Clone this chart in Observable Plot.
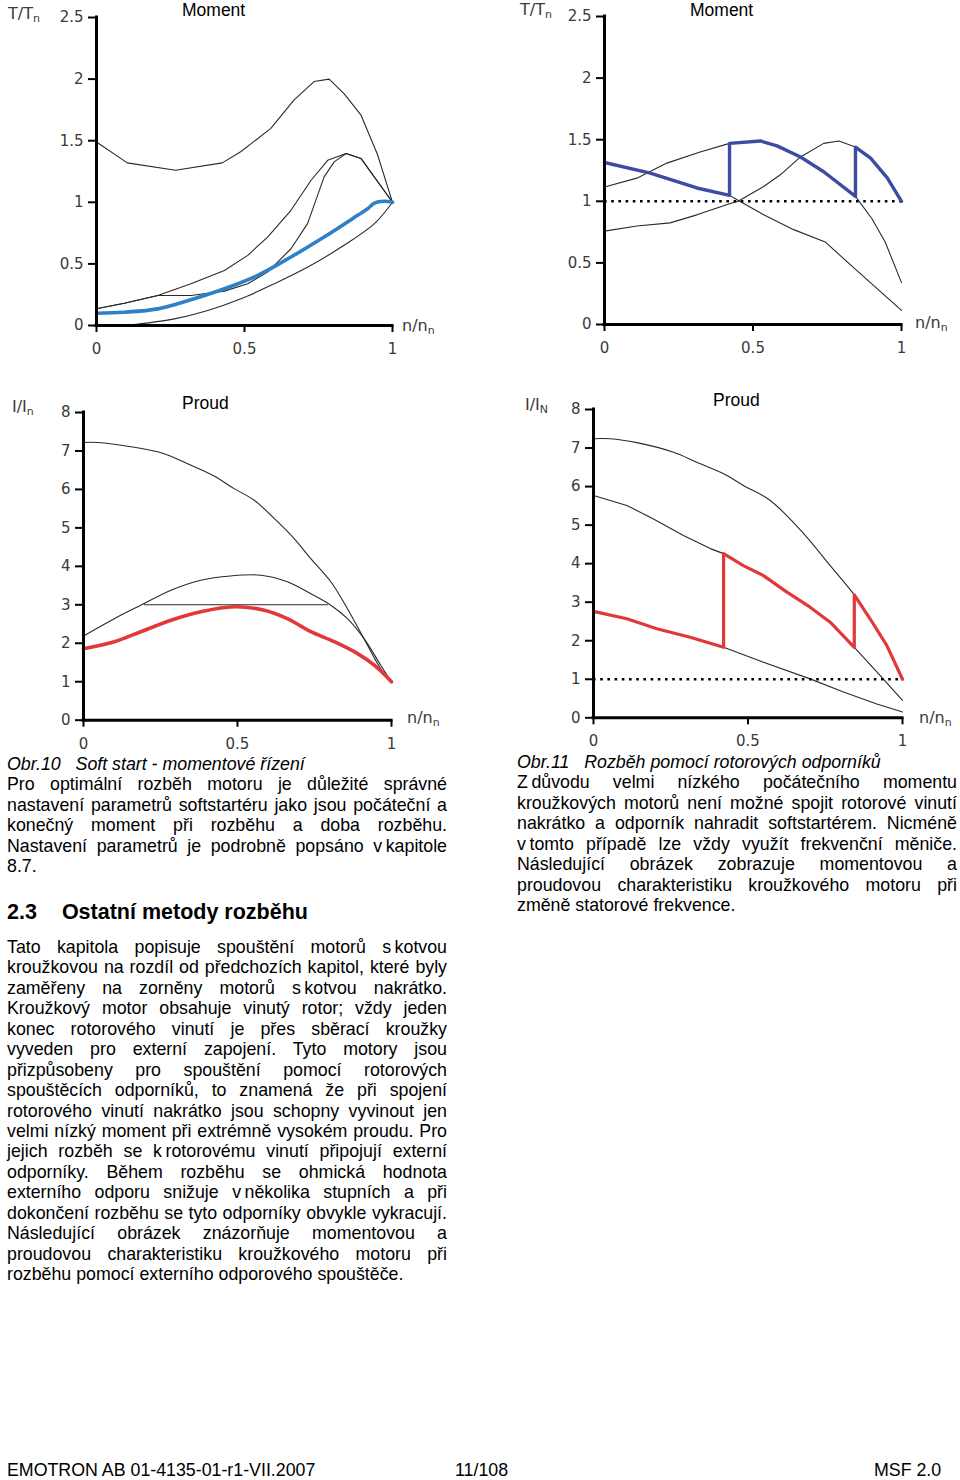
<!DOCTYPE html>
<html><head><meta charset="utf-8">
<script src="https://cdn.jsdelivr.net/npm/d3@7"></script>
<script src="https://cdn.jsdelivr.net/npm/@observablehq/plot@0.6"></script>
<style>
html,body{margin:0;padding:0;background:#fff;}
#page{position:relative;width:960px;height:1480px;overflow:hidden;font-family:"Liberation Sans",Arial,sans-serif;color:#000;}
.abs{position:absolute;white-space:nowrap;}
.lbl{font-family:"DejaVu Sans",sans-serif;font-size:16px;color:#3a3a3a;line-height:20px;}
.lbl sub{font-size:11px;vertical-align:-3px;line-height:0;}
.title{font-family:"Liberation Sans",Arial,sans-serif;font-size:17.5px;line-height:20px;color:#000;}
.col{position:absolute;width:440px;font-size:17.8px;line-height:20.45px;}
.col div{height:20.45px;white-space:nowrap;}
.col .cap{font-style:italic;}
.head{position:absolute;font-weight:bold;font-size:21.5px;line-height:24px;white-space:nowrap;}
.foot{position:absolute;font-size:17.8px;line-height:20px;white-space:nowrap;}
</style>
</head><body><div id="page"></div>
<script>
// ---------- data: chart 1 (Soft start - moment) ----------
const m1DolX = [0, 0.104, 0.267, 0.425, 0.487, 0.589, 0.667, 0.735, 0.786, 0.837, 0.893, 0.949, 1];
const m1DolY = [1.49, 1.32, 1.26, 1.32, 1.41, 1.60, 1.83, 1.98, 2.0, 1.88, 1.71, 1.39, 1.0];
const m1UpX = [0, 0.094, 0.207, 0.319, 0.432, 0.511, 0.578, 0.657, 0.725, 0.781, 0.843, 0.894, 1];
const m1UpY = [0.136, 0.181, 0.244, 0.339, 0.447, 0.569, 0.718, 0.935, 1.179, 1.341, 1.396, 1.355, 1.0];
const m1LowX = [0, 0.094, 0.207, 0.263, 0.319, 0.432, 0.511, 0.578, 0.657, 0.713, 0.769, 0.803, 0.843, 0.894, 1];
const m1LowY = [0.136, 0.181, 0.244, 0.244, 0.244, 0.279, 0.339, 0.434, 0.623, 0.827, 1.206, 1.328, 1.396, 1.355, 1.0];
const m1SoftX = [0, 0.094, 0.207, 0.319, 0.432, 0.545, 0.657, 0.769, 0.882, 0.916, 0.939, 0.972, 1];
const m1SoftY = [0.10, 0.108, 0.135, 0.209, 0.298, 0.407, 0.556, 0.718, 0.894, 0.948, 0.994, 1.008, 1.0];
const m1LoadX = [0.1, 0.263, 0.376, 0.488, 0.601, 0.714, 0.827, 0.939, 1];
const m1LoadY = [0, 0.054, 0.122, 0.217, 0.339, 0.474, 0.637, 0.827, 1.0];

// ---------- data: chart 2 (rotor resistors - moment) ----------
const m2HighX = [0, 0.154, 0.311, 0.421, 0.451, 0.536, 0.637, 0.743, 0.851, 1];
const m2HighY = [1.315, 1.228, 1.108, 1.048, 1.006, 0.89, 0.77, 0.67, 0.435, 0.114];
const m2MidX = [0, 0.109, 0.21, 0.322, 0.421, 0.525, 0.581, 0.66, 0.738, 0.845, 0.9, 0.945, 1];
const m2MidY = [1.116, 1.188, 1.31, 1.40, 1.47, 1.49, 1.45, 1.36, 1.24, 1.04, 0.86, 0.67, 0.34];
const m2LowX = [0, 0.109, 0.221, 0.311, 0.421, 0.45, 0.536, 0.592, 0.66, 0.738, 0.789, 0.845, 0.896, 0.952, 1];
const m2LowY = [0.758, 0.80, 0.825, 0.89, 0.98, 1.0, 1.12, 1.215, 1.36, 1.47, 1.49, 1.44, 1.35, 1.19, 1.0];
const m2StepX = [0, 0.154, 0.311, 0.421, 0.421, 0.525, 0.581, 0.66, 0.738, 0.845, 0.845, 0.896, 0.952, 1];
const m2StepY = [1.315, 1.228, 1.108, 1.048, 1.47, 1.49, 1.45, 1.36, 1.24, 1.04, 1.44, 1.35, 1.19, 1.0];

// ---------- data: chart 3 (Soft start - current) ----------
const c1DolX = [0, 0.045, 0.154, 0.262, 0.338, 0.424, 0.489, 0.554, 0.63, 0.684, 0.738, 0.803, 0.857, 0.922, 0.965, 1];
const c1DolY = [7.22, 7.22, 7.11, 6.93, 6.67, 6.35, 6.02, 5.72, 5.16, 4.72, 4.20, 3.60, 2.90, 1.95, 1.34, 1.0];
const c1HumpX = [0, 0.10, 0.186, 0.284, 0.381, 0.478, 0.576, 0.662, 0.738, 0.803, 0.857, 0.911, 0.965, 1];
const c1HumpY = [2.19, 2.64, 2.99, 3.38, 3.64, 3.75, 3.77, 3.60, 3.29, 2.99, 2.64, 2.12, 1.43, 1.0];
const c1LimitX = [0.197, 0.792];
const c1LimitY = [3, 3];
const c1SoftX = [0, 0.10, 0.186, 0.284, 0.381, 0.489, 0.587, 0.662, 0.738, 0.814, 0.89, 0.944, 1];
const c1SoftY = [1.86, 2.04, 2.30, 2.60, 2.82, 2.95, 2.86, 2.64, 2.30, 2.04, 1.73, 1.43, 1.0];

// ---------- data: chart 4 (rotor resistors - current) ----------
const c2TopX = [0, 0.054, 0.14, 0.259, 0.334, 0.421, 0.485, 0.572, 0.68, 0.766, 0.844, 0.895, 0.949, 1];
const c2TopY = [7.24, 7.24, 7.14, 6.89, 6.63, 6.33, 6.03, 5.64, 4.78, 3.95, 3.19, 2.57, 1.88, 1.0];
const c2MidX = [0, 0.108, 0.194, 0.291, 0.378, 0.421, 0.485, 0.55, 0.626, 0.701, 0.766, 0.844, 0.917, 1];
const c2MidY = [5.77, 5.51, 5.16, 4.73, 4.39, 4.26, 3.95, 3.69, 3.26, 2.87, 2.48, 1.83, 1.19, 0.45];
const c2LowX = [0, 0.108, 0.205, 0.313, 0.421, 0.55, 0.701, 0.809, 0.917, 1];
const c2LowY = [2.76, 2.57, 2.31, 2.09, 1.83, 1.44, 1.01, 0.67, 0.36, 0.15];
const c2StepX = [0, 0.108, 0.205, 0.313, 0.421, 0.421, 0.485, 0.55, 0.626, 0.701, 0.766, 0.844, 0.844, 0.895, 0.949, 1];
const c2StepY = [2.76, 2.57, 2.31, 2.09, 1.83, 4.26, 3.95, 3.69, 3.26, 2.87, 2.48, 1.83, 3.19, 2.57, 1.88, 1.0];

// ---------- ticks ----------
const xTicks = [0, 0.5, 1];
const tTicks = [0, 0.5, 1, 1.5, 2, 2.5];
const iTicks = [0, 1, 2, 3, 4, 5, 6, 7, 8];

const page = document.getElementById("page");
const pts = (xs, ys) => xs.map((x, i) => [x, ys[i]]);
const thin = (xs, ys, curve = "linear") => Plot.line(pts(xs, ys), {stroke: "#2a2a2a", strokeWidth: 1.1, curve});
const thick = (xs, ys, color, curve = "linear", w = 3.2) => Plot.line(pts(xs, ys), {stroke: color, strokeWidth: w, curve, strokeLinejoin: "round", strokeLinecap: "round"});
const dotted = () => Plot.ruleY([1], {stroke: "#000", strokeWidth: 2.6, strokeDasharray: "2.6,4.6"});

function chart({x0, x1, y0, yTop, yMax, yTicks, marks}) {
  const mL = 60, mR = 70, mT = 12, mB = 45;
  const w = (x1 - x0) + mL + mR, h = (y0 - yTop) + mT + mB;
  const svg = Plot.plot({
    width: w, height: h, marginLeft: mL, marginRight: mR, marginTop: mT, marginBottom: mB,
    x: {domain: [0, 1], label: null},
    y: {domain: [0, yMax], label: null},
    style: {background: "transparent", fontFamily: "'DejaVu Sans', sans-serif", overflow: "visible"},
    marks: [
      ...marks,
      Plot.axisX({ticks: xTicks, tickSize: 7, tickPadding: 11, tickFormat: d => String(d), fontSize: 15, fill: "#3a3a3a", stroke: "#000", strokeWidth: 2, label: null}),
      Plot.axisY({ticks: yTicks, tickSize: 8, tickPadding: 5, tickFormat: d => String(d), fontSize: 15, fill: "#3a3a3a", stroke: "#000", strokeWidth: 2, label: null}),
      Plot.ruleY([0], {stroke: "#000", strokeWidth: 3, strokeLinecap: "square"}),
      Plot.ruleX([0], {stroke: "#000", strokeWidth: 3, strokeLinecap: "square"})
    ]
  });
  svg.style.position = "absolute";
  svg.style.left = (x0 - mL) + "px";
  svg.style.top = (yTop - mT) + "px";
  page.appendChild(svg);
}

// Chart 1
chart({x0: 95.5, x1: 391.5, y0: 325, yTop: 17, yMax: 2.5, yTicks: tTicks, marks: [
  thin(m1DolX, m1DolY),
  thin(m1UpX, m1UpY),
  thin(m1LowX, m1LowY),
  thin(m1LoadX, m1LoadY, "catmull-rom"),
  thick(m1SoftX, m1SoftY, "#2f80c8", "catmull-rom", 3.6)
]});
// Chart 2
chart({x0: 604, x1: 901, y0: 324, yTop: 16, yMax: 2.5, yTicks: tTicks, marks: [
  thin(m2HighX, m2HighY),
  thin(m2MidX, m2MidY),
  thin(m2LowX, m2LowY),
  dotted(),
  thick(m2StepX, m2StepY, "#3d4ca3", "linear", 3.4)
]});
// Chart 3
chart({x0: 82.7, x1: 390.7, y0: 720, yTop: 412.3, yMax: 8, yTicks: iTicks, marks: [
  thin(c1DolX, c1DolY, "catmull-rom"),
  thin(c1HumpX, c1HumpY, "catmull-rom"),
  thin(c1LimitX, c1LimitY),
  thick(c1SoftX, c1SoftY, "#e2383a", "catmull-rom", 3.6)
]});
// Chart 4
chart({x0: 593.3, x1: 902.3, y0: 717.3, yTop: 409, yMax: 8, yTicks: iTicks, marks: [
  thin(c2TopX, c2TopY, "catmull-rom"),
  thin(c2MidX, c2MidY),
  thin(c2LowX, c2LowY),
  dotted(),
  thick(c2StepX, c2StepY, "#e2383a", "linear", 3.2)
]});

// ---------- labels ----------
function lab(html, left, cy, cls) {
  const d = document.createElement("div");
  d.className = "abs " + cls;
  d.innerHTML = html;
  d.style.left = left + "px";
  d.style.top = Math.max(0, cy - 10) + "px";
  page.appendChild(d);
}
const axisLabels = [
  ["T/T<sub>n</sub>", 8, 14], ["n/n<sub>n</sub>", 402, 326],
  ["T/T<sub>n</sub>", 520, 10], ["n/n<sub>n</sub>", 915, 323],
  ["I/I<sub>n</sub>", 12, 407], ["n/n<sub>n</sub>", 407, 718],
  ["I/I<sub>N</sub>", 525, 405], ["n/n<sub>n</sub>", 919, 718]
];
axisLabels.forEach(([t, l, c]) => lab(t, l, c, "lbl"));
const titles = [["Moment", 182, 10], ["Moment", 690, 10], ["Proud", 182, 403], ["Proud", 713, 400]];
titles.forEach(([t, l, c]) => lab(t, l, c, "title"));

// ---------- text ----------
const COLW = 440;
function column(left, top, lines) {
  const c = document.createElement("div");
  c.className = "col";
  c.style.left = left + "px";
  c.style.top = top + "px";
  page.appendChild(c);
  lines.forEach(([cls, t]) => {
    const d = document.createElement("div");
    d.className = cls;
    const s = document.createElement("span");
    s.style.whiteSpace = "pre";
    s.textContent = t;
    d.appendChild(s);
    c.appendChild(d);
    if (cls === "j") {
      const w = s.getBoundingClientRect().width;
      const n = (t.match(/ /g) || []).length;
      if (n) s.style.wordSpacing = ((COLW - w) / n) + "px";
    }
  });
}
const ts = "\u2009";
column(7, 754, [
  ["cap", "Obr.10\u00A0\u00A0\u00A0Soft start - momentové řízení"],
  ["j", "Pro optimální rozběh motoru je důležité správné"],
  ["j", "nastavení parametrů softstartéru jako jsou počáteční a"],
  ["j", "konečný moment při rozběhu a doba rozběhu."],
  ["j", "Nastavení parametrů je podrobně popsáno v" + ts + "kapitole"],
  ["", "8.7."]
]);
const h = document.createElement("div");
h.className = "head";
h.style.left = "7px"; h.style.top = "900px";
h.innerHTML = '2.3<span style="display:inline-block;width:25px"></span>Ostatní metody rozběhu';
page.appendChild(h);
column(7, 937, [
  ["j", "Tato kapitola popisuje spouštění motorů s" + ts + "kotvou"],
  ["j", "kroužkovou na rozdíl od předchozích kapitol, které byly"],
  ["j", "zaměřeny na zorněny motorů s" + ts + "kotvou nakrátko."],
  ["j", "Kroužkový motor obsahuje vinutý rotor; vždy jeden"],
  ["j", "konec rotorového vinutí je přes sběrací kroužky"],
  ["j", "vyveden pro externí zapojení. Tyto motory jsou"],
  ["j", "přizpůsobeny pro spouštění pomocí rotorových"],
  ["j", "spouštěcích odporníků, to znamená že při spojení"],
  ["j", "rotorového vinutí nakrátko jsou schopny vyvinout jen"],
  ["j", "velmi nízký moment při extrémně vysokém proudu. Pro"],
  ["j", "jejich rozběh se k" + ts + "rotorovému vinutí připojují externí"],
  ["j", "odporníky. Během rozběhu se ohmická hodnota"],
  ["j", "externího odporu snižuje v" + ts + "několika stupních a při"],
  ["j", "dokončení rozběhu se tyto odporníky obvykle vykracují."],
  ["j", "Následující obrázek znázorňuje momentovou a"],
  ["j", "proudovou charakteristiku kroužkového motoru při"],
  ["", "rozběhu pomocí externího odporového spouštěče."]
]);
column(517, 752, [
  ["cap", "Obr.11\u00A0\u00A0\u00A0Rozběh pomocí rotorových odporníků"],
  ["j", "Z" + ts + "důvodu velmi nízkého počátečního momentu"],
  ["j", "kroužkových motorů není možné spojit rotorové vinutí"],
  ["j", "nakrátko a odporník nahradit softstartérem. Nicméně"],
  ["j", "v" + ts + "tomto případě lze vždy využít frekvenční měniče."],
  ["j", "Následující obrázek zobrazuje momentovou a"],
  ["j", "proudovou charakteristiku kroužkového motoru při"],
  ["", "změně statorové frekvence."]
]);
const footer = [["EMOTRON AB 01-4135-01-r1-VII.2007", 7], ["11/108", 455], ["MSF 2.0", 874]];
footer.forEach(([t, l]) => {
  const d = document.createElement("div");
  d.className = "foot";
  d.style.left = l + "px"; d.style.top = "1460px";
  d.textContent = t;
  page.appendChild(d);
});
</script>
</body></html>
